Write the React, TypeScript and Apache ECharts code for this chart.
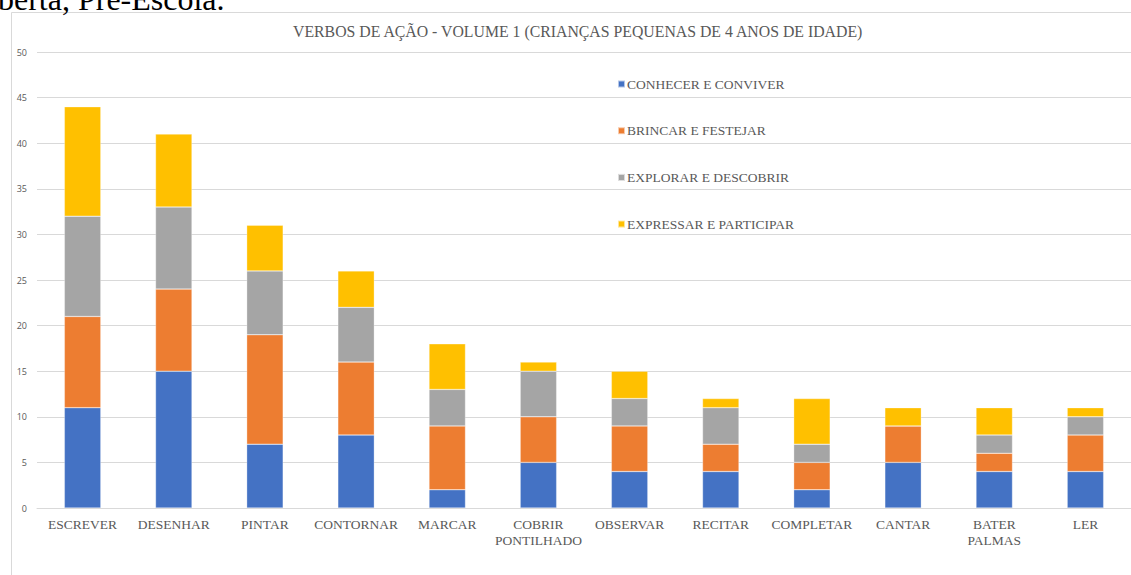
import React, { useEffect, useRef } from "react";
import * as echarts from "echarts";

const categories = [
  "ESCREVER",
  "DESENHAR",
  "PINTAR",
  "CONTORNAR",
  "MARCAR",
  "COBRIR\nPONTILHADO",
  "OBSERVAR",
  "RECITAR",
  "COMPLETAR",
  "CANTAR",
  "BATER\nPALMAS",
  "LER",
];

const conhecer = [11, 15, 7, 8, 2, 5, 4, 4, 2, 5, 4, 4];
const brincar = [10, 9, 12, 8, 7, 5, 5, 3, 3, 4, 2, 4];
const explorar = [11, 9, 7, 6, 4, 5, 3, 4, 2, 0, 2, 2];
const expressar = [12, 8, 5, 4, 5, 1, 3, 1, 5, 2, 3, 1];

const seriesNames = [
  "CONHECER E CONVIVER",
  "BRINCAR E FESTEJAR",
  "EXPLORAR E DESCOBRIR",
  "EXPRESSAR E PARTICIPAR",
];
const seriesData = [conhecer, brincar, explorar, expressar];
const colors = ["#4472C4", "#ED7D31", "#A5A5A5", "#FFC000"];

const titleText = "VERBOS DE AÇÃO - VOLUME 1 (CRIANÇAS PEQUENAS DE 4 ANOS DE IDADE)";
const headText = "berta, Pré-Escola.";

const serif = "Liberation Serif";

export default function App() {
  const ref = useRef<HTMLDivElement>(null);
  useEffect(() => {
    if (!ref.current) return;
    const chart = echarts.init(ref.current, undefined, { renderer: "svg" });
    chart.setOption({
      animation: false,
      backgroundColor: "#ffffff",
      title: {
        text: titleText,
        left: 288,
        top: 18,
        textStyle: {
          fontFamily: serif,
          fontSize: 15.8,
          fontWeight: "normal",
          color: "#595959",
        },
      },
      legend: {
        orient: "vertical",
        left: 612,
        top: 72,
        itemWidth: 7,
        itemHeight: 7,
        itemGap: 32.7,
        icon: "rect",
        textStyle: {
          fontFamily: serif,
          fontSize: 13.5,
          color: "#595959",
          padding: [0, 0, 0, -3],
        },
        data: seriesNames,
      },
      grid: { left: 37, right: 0, top: 52, bottom: 67 },
      xAxis: {
        type: "category",
        data: categories,
        axisLine: { lineStyle: { color: "#d9d9d9", width: 1 } },
        axisTick: { show: false },
        axisLabel: {
          fontFamily: serif,
          fontSize: 13.5,
          color: "#595959",
          lineHeight: 16,
          margin: 8,
          interval: 0,
        },
      },
      yAxis: {
        type: "value",
        min: 0,
        max: 50,
        interval: 5,
        axisLine: { show: false },
        axisTick: { show: false },
        splitLine: { lineStyle: { color: "#d9d9d9", width: 1 } },
        axisLabel: {
          fontFamily: "Open Sans",
          fontSize: 9,
          color: "#595959",
          margin: 10,
        },
      },
      series: seriesNames.map((name, i) => ({
        name,
        type: "bar",
        stack: "total",
        barWidth: "40%",
        data: seriesData[i],
        itemStyle: { color: colors[i], borderColor: "rgba(255,255,255,0.6)", borderWidth: 0.5 },
      })),
      graphic: [
        {
          type: "line",
          shape: { x1: 11.5, y1: 12.5, x2: 1131, y2: 12.5 },
          style: { stroke: "#d9d9d9", lineWidth: 1 },
          silent: true,
        },
        {
          type: "line",
          shape: { x1: 11.5, y1: 12.5, x2: 11.5, y2: 575 },
          style: { stroke: "#d9d9d9", lineWidth: 1 },
          silent: true,
        },
        {
          type: "text",
          left: -2,
          top: -17,
          style: {
            text: headText,
            font: "32px 'Liberation Serif', serif",
            fill: "#000000",
          },
          silent: true,
        },
      ],
    });
    return () => chart.dispose();
  }, []);
  return (
    <div
      ref={ref}
      style={{ position: "fixed", left: 0, top: 0, width: 1131, height: 575 }}
    />
  );
}
